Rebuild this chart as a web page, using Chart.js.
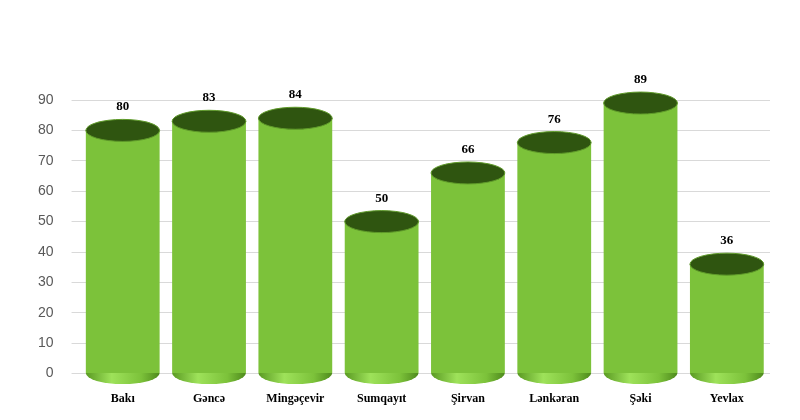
<!DOCTYPE html>
<html>
<head>
<meta charset="utf-8">
<script src="https://cdn.jsdelivr.net/npm/chart.js@4"></script>
<style>
  body { margin: 0; background: #fff; }
  #wrap { width: 800px; height: 420px; }
</style>
</head>
<body>
<div id="wrap"><canvas id="chart"></canvas></div>
<script>
// data
var cities = ["Bakı", "Gəncə", "Mingəçevir", "Sumqayıt", "Şirvan", "Lənkəran", "Şəki", "Yevlax"];
var values = [80, 83, 84, 50, 66, 76, 89, 36];
var yTicks = [0, 10, 20, 30, 40, 50, 60, 70, 80, 90];

function sideGradient(c, x, w) {
  var g = c.createLinearGradient(x - w, 0, x + w, 0);
  g.addColorStop(0, '#5a9a22');
  g.addColorStop(0.35, '#9ee25a');
  g.addColorStop(0.75, '#7cc23a');
  g.addColorStop(1, '#4e8a1c');
  return g;
}

// cylinder tops, bottoms and value labels
var cylinders = {
  id: 'cylinders',
  afterDatasetsDraw: function (chart) {
    var ctx = chart.ctx;
    var meta = chart.getDatasetMeta(0);
    meta.data.forEach(function (bar, i) {
      var w = bar.width / 2;
      if (!isFinite(w) || !isFinite(bar.x)) return;
      var h = 11;
      ctx.save();
      // bottom
      ctx.beginPath();
      ctx.ellipse(bar.x, bar.base, w, h, 0, 0, Math.PI);
      ctx.fillStyle = sideGradient(ctx, bar.x, w);
      ctx.fill();
      // top
      ctx.beginPath();
      ctx.ellipse(bar.x, bar.y, w, h, 0, 0, Math.PI * 2);
      ctx.fillStyle = '#2f5510';
      ctx.fill();
      ctx.strokeStyle = '#5f9a2a';
      ctx.lineWidth = 1;
      ctx.stroke();
      // label
      ctx.fillStyle = '#000';
      ctx.font = 'bold 13px "Liberation Serif"';
      ctx.textAlign = 'center';
      ctx.fillText(values[i], bar.x, bar.y - 20);
      ctx.restore();
    });
  }
};

var ctx = document.getElementById('chart').getContext('2d');

new Chart(ctx, {
  type: 'bar',
  data: {
    labels: cities,
    datasets: [{
      data: values,
      backgroundColor: function (c) {
        var chart = c.chart;
        var bar = chart.getDatasetMeta(0).data[c.dataIndex];
        if (!bar || !isFinite(bar.x) || !isFinite(bar.width)) return '#7cc23a';
        return sideGradient(chart.ctx, bar.x, bar.width / 2);
      },
      borderWidth: 0,
      categoryPercentage: 0.9,
      barPercentage: 0.95
    }]
  },
  options: {
    responsive: true,
    maintainAspectRatio: false,
    animation: false,
    layout: { padding: { top: 100, right: 30, left: 20, bottom: 4 } },
    plugins: { legend: { display: false }, tooltip: { enabled: false } },
    scales: {
      x: {
        grid: { display: false },
        border: { display: false },
        ticks: { color: '#000', font: { family: 'Liberation Serif', weight: 'bold', size: 12 }, padding: 10 }
      },
      y: {
        min: 0, max: 90,
        afterBuildTicks: function (axis) { axis.ticks = yTicks.map(function (v) { return { value: v }; }); },
        grid: { color: '#d9d9d9' },
        border: { display: false },
        ticks: { color: '#595959', font: { family: 'Liberation Sans', size: 14 }, padding: 18 }
      }
    }
  },
  plugins: [cylinders]
});
</script>
</body>
</html>
